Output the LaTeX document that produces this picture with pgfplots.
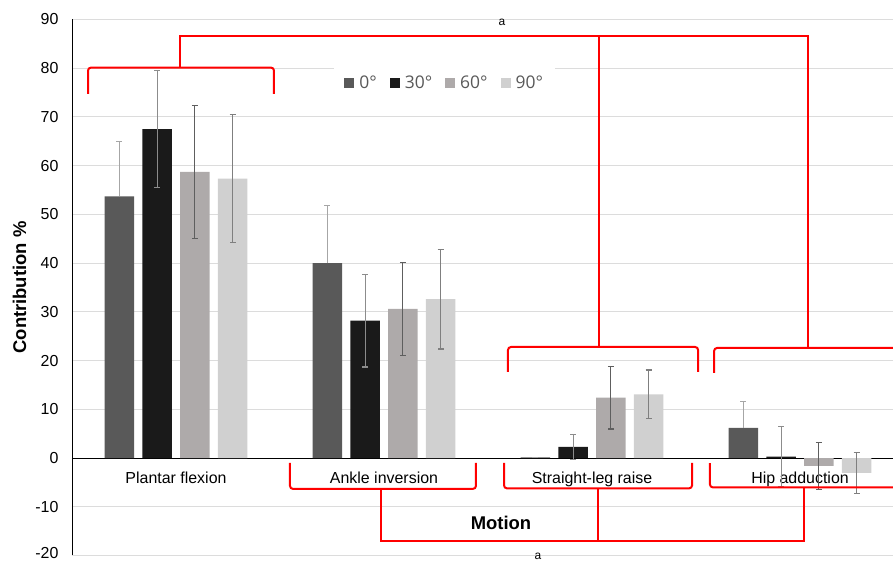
\documentclass[border=0pt]{standalone}
\usepackage{pgfplots}
\pgfplotsset{compat=1.18}
\usepackage{fontspec}
\setmainfont{Liberation Sans}
\newfontfamily\legfont{Open Sans}
\definecolor{c0}{HTML}{595959}
\definecolor{c1}{HTML}{1A1A1A}
\definecolor{c2}{HTML}{AEAAAA}
\definecolor{c3}{HTML}{D0D0D0}
\definecolor{eb0}{HTML}{A6A6A6}
\definecolor{eb1}{HTML}{8C8C8C}
\definecolor{eb2}{HTML}{5E5E5E}
\definecolor{eb3}{HTML}{7F7F7F}
\definecolor{gridc}{HTML}{DCDCDC}
\definecolor{legtext}{HTML}{595959}
\definecolor{bred}{HTML}{FF0000}
\begin{document}
\begin{tikzpicture}
\path[use as bounding box] (-72bp,-5.3bp) rectangle (821bp,555.7bp);
\begin{axis}[
  at={(0,0)}, anchor=south west,
  scale only axis, width=821bp, height=536.4bp,
  xmin=-0.5, xmax=3.447, ymin=-20, ymax=90,
  clip=false,
  axis y line=left, axis x line=middle,
  axis line style={-, black, line width=0.8bp},
  ytick={-10,0,...,90},
  extra y ticks={-20},
  extra y tick style={grid=major, yticklabel style={yshift=3bp}},
  xtick={0,1,2,3},
  xticklabels={Plantar flexion, Ankle inversion, Straight-leg raise, Hip adduction},
  major tick length=0pt,
  ymajorgrids, grid style={gridc, line width=0.9bp},
  /pgf/number format/assume math mode=true,
  tick label style={font=\fontsize{16}{18}\selectfont},
  yticklabel style={xshift=-10bp},
  xticklabel style={yshift=-10bp},
  ybar=8.2bp, bar width=29.5bp,
  legend columns=4,
  legend style={at={(axis description cs:0.454,0.881)}, anchor=center,
    draw=none, fill=white, inner xsep=10bp, inner ysep=8bp,
    font=\legfont\fontsize{17.5}{20}\selectfont, text=legtext,
    /tikz/every odd column/.append style={column sep=3bp},
    /tikz/every even column/.append style={column sep=11bp}},
  legend image code/.code={\fill[#1] (0bp,-5bp) rectangle (10bp,5bp);},
]
\addplot[fill=c0, draw=none, error bars/.cd, y dir=plus, y explicit,
  error bar style={color=eb0, line width=1.2bp},
  error mark options={rotate=90, mark size=3bp, line width=1.2bp, color=eb0}]
  coordinates {(0,53.7) +- (0,11.2) (1,40.0) +- (0,11.8) (2,0.15) +- (0,0) (3,6.2) +- (0,5.4)};
\addplot[fill=c1, draw=none, error bars/.cd, y dir=both, y explicit,
  error bar style={color=eb1, line width=1.2bp},
  error mark options={rotate=90, mark size=3bp, line width=1.2bp, color=eb1}]
  coordinates {(0,67.5) +- (0,12.0) (1,28.2) +- (0,9.5) (2,2.3) +- (0,2.6) (3,0.3) +- (0,6.2)};
\addplot[fill=c2, draw=none, error bars/.cd, y dir=both, y explicit,
  error bar style={color=eb2, line width=1.2bp},
  error mark options={rotate=90, mark size=3bp, line width=1.2bp, color=eb2}]
  coordinates {(0,58.7) +- (0,13.7) (1,30.6) +- (0,9.6) (2,12.4) +- (0,6.4) (3,-1.6) +- (0,4.8)};
\addplot[fill=c3, draw=none, error bars/.cd, y dir=both, y explicit,
  error bar style={color=eb3, line width=1.2bp},
  error mark options={rotate=90, mark size=3bp, line width=1.2bp, color=eb3}]
  coordinates {(0,57.3) +- (0,13.1) (1,32.6) +- (0,10.2) (2,13.1) +- (0,5.0) (3,-3.0) +- (0,4.2)};
\legend{0°,30°,60°,90°}
% significance brackets (annotations)
\begin{scope}[bred, line width=2bp, rounded corners=3bp]
\draw (axis cs:-0.423,74.7) -- (axis cs:-0.423,80.1) -- (axis cs:0.471,80.1) -- (axis cs:0.471,74.7);
\draw (axis cs:1.596,17.7) -- (axis cs:1.596,22.8) -- (axis cs:2.51,22.8) -- (axis cs:2.51,17.7);
\draw (axis cs:2.587,17.5) -- (axis cs:2.587,22.6) -- (axis cs:3.447,22.6);
\draw (axis cs:0.548,-0.96) -- (axis cs:0.548,-6.3) -- (axis cs:1.442,-6.3) -- (axis cs:1.442,-0.96);
\draw (axis cs:1.577,-0.96) -- (axis cs:1.577,-6.2) -- (axis cs:2.481,-6.2) -- (axis cs:2.481,-0.96);
\draw (axis cs:2.567,-1.0) -- (axis cs:2.567,-6.0) -- (axis cs:3.447,-6.0);
\end{scope}
\begin{scope}[bred, line width=2bp]
\draw (axis cs:0.019,80.1) -- (axis cs:0.019,86.6) -- (axis cs:3.038,86.6) -- (axis cs:3.038,22.6);
\draw (axis cs:2.034,86.6) -- (axis cs:2.034,22.8);
\draw (axis cs:0.986,-6.3) -- (axis cs:0.986,-17.0) -- (axis cs:3.019,-17.0) -- (axis cs:3.019,-6.0);
\draw (axis cs:2.029,-6.2) -- (axis cs:2.029,-17.0);
\end{scope}
\node[font=\fontsize{12}{14}\selectfont] at (axis cs:1.567,89.4) {a};
\node[font=\fontsize{12}{14}\selectfont] at (axis cs:1.74,-20.1) {a};
\node[font=\bfseries\fontsize{18.5}{20}\selectfont] at (axis cs:1.5625,-13.3) {Motion};
\node[rotate=90, font=\bfseries\fontsize{18.5}{20}\selectfont] at (axis description cs:-0.064,0.5) {Contribution \%};
\end{axis}
\end{tikzpicture}
\end{document}
